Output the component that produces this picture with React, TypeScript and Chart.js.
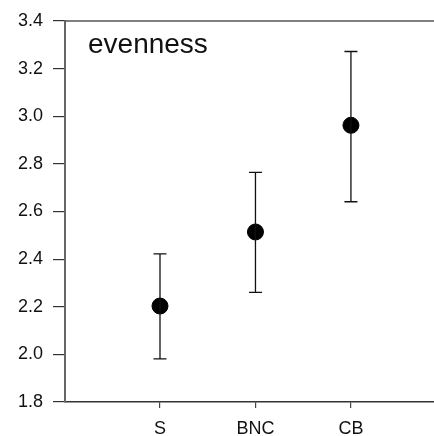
import React, { useEffect, useRef } from "react";
import { Chart, registerables } from "chart.js";

Chart.register(...registerables);

// Groups, their means and the lower / upper ends of each error bar
const groups = ["S", "BNC", "CB"];
const groupPositions = [1, 2, 3];
const means = [2.203, 2.514, 2.962];
const lowerBounds = [1.981, 2.26, 2.641];
const upperBounds = [2.422, 2.764, 3.272];
const yTicks = [1.8, 2.0, 2.2, 2.4, 2.6, 2.8, 3.0, 3.2, 3.4];
const panelLabel = "evenness";

const FONT = "'Liberation Sans', Arial, sans-serif";

const errorBarsPlugin = {
  id: "errorBars",
  afterDatasetsDraw(chart: any) {
    const { ctx } = chart;
    const x = chart.scales.x;
    const y = chart.scales.y;
    ctx.save();
    ctx.strokeStyle = "#111";
    ctx.lineWidth = 1.3;
    groupPositions.forEach((pos, i) => {
      const px = x.getPixelForValue(pos);
      const lo = y.getPixelForValue(lowerBounds[i]);
      const hi = y.getPixelForValue(upperBounds[i]);
      const cap = 6.5;
      ctx.beginPath();
      ctx.moveTo(px, lo);
      ctx.lineTo(px, hi);
      ctx.moveTo(px - cap, lo);
      ctx.lineTo(px + cap, lo);
      ctx.moveTo(px - cap, hi);
      ctx.lineTo(px + cap, hi);
      ctx.stroke();
    });
    ctx.restore();
  },
};

const framePlugin = {
  id: "frame",
  afterDraw(chart: any) {
    const { ctx, chartArea } = chart;
    ctx.save();
    // top frame line
    ctx.strokeStyle = "#555";
    ctx.lineWidth = 1.5;
    ctx.beginPath();
    ctx.moveTo(chartArea.left, chartArea.top);
    ctx.lineTo(chart.width, chartArea.top);
    ctx.stroke();
    // panel label
    ctx.fillStyle = "#111";
    ctx.font = `28px ${FONT}`;
    ctx.textBaseline = "alphabetic";
    ctx.textAlign = "left";
    ctx.fillText(panelLabel, chartArea.left + 23, chartArea.top + 32);
    ctx.restore();
  },
};

export default function App() {
  const ref = useRef<HTMLCanvasElement>(null);

  useEffect(() => {
    document.body.style.margin = "0";
    const canvas = ref.current;
    if (!canvas) return;
    const chart = new Chart(canvas, {
      type: "scatter",
      data: {
        datasets: [
          {
            data: groupPositions.map((p, i) => ({ x: p, y: means[i] })),
            backgroundColor: "#000",
            borderColor: "#000",
            pointRadius: 8,
            pointHoverRadius: 8,
            clip: false,
          },
        ],
      },
      options: {
        animation: false,
        responsive: false,
        devicePixelRatio: 1,
        layout: { autoPadding: false, padding: { top: 21, left: 0, right: 0, bottom: 0 } },
        plugins: {
          legend: { display: false },
          tooltip: { enabled: false },
        },
        scales: {
          x: {
            type: "linear",
            min: 0.005,
            max: 3.87,
            afterBuildTicks(scale: any) {
              scale.ticks = groupPositions.map((v) => ({ value: v }));
            },
            afterFit(scale: any) {
              scale.height = 34;
              scale.paddingLeft = 0;
              scale.paddingRight = 0;
            },
            ticks: {
              callback: (v: any) => groups[groupPositions.indexOf(Number(v))] ?? "",
              color: "#111",
              font: { family: FONT, size: 18 },
              padding: 10,
              maxRotation: 0,
              autoSkip: false,
            },
            grid: {
              drawOnChartArea: false,
              drawTicks: true,
              tickLength: 6,
              color: "#444",
              lineWidth: 1.2,
            },
            border: { display: true, color: "#333", width: 1.6 },
          },
          y: {
            type: "linear",
            min: 1.8,
            max: 3.4,
            afterBuildTicks(scale: any) {
              scale.ticks = yTicks.map((v) => ({ value: v }));
            },
            afterFit(scale: any) {
              scale.width = 65;
            },
            ticks: {
              callback: (v: any) => Number(v).toFixed(1),
              color: "#111",
              font: { family: FONT, size: 18 },
              padding: 10,
            },
            grid: {
              drawOnChartArea: false,
              drawTicks: true,
              tickLength: 12,
              color: "#333",
              lineWidth: 1.2,
            },
            border: { display: true, color: "#666", width: 2 },
          },
        },
      },
      plugins: [errorBarsPlugin, framePlugin],
    });
    return () => chart.destroy();
  }, []);

  return <canvas ref={ref} width={434} height={436} style={{ display: "block" }} />;
}
